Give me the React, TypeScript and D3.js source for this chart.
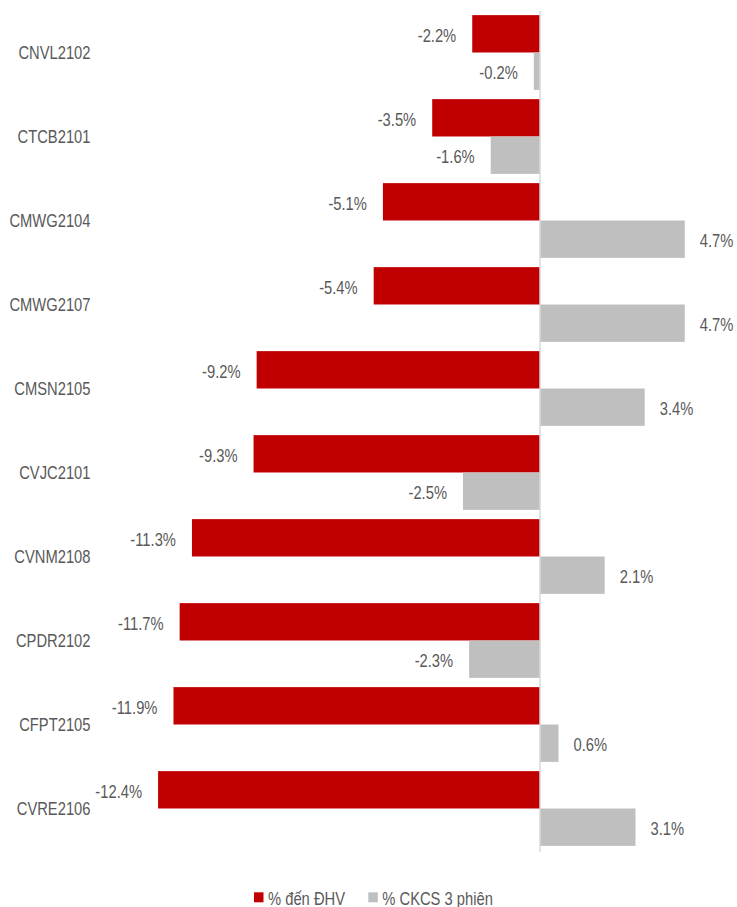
import React, { useEffect, useRef } from 'react';
import * as d3 from 'd3';

const categories = ['CNVL2102', 'CTCB2101', 'CMWG2104', 'CMWG2107', 'CMSN2105', 'CVJC2101', 'CVNM2108', 'CPDR2102', 'CFPT2105', 'CVRE2106'];
const toFairValue = [-2.2, -3.5, -5.1, -5.4, -9.2, -9.3, -11.3, -11.7, -11.9, -12.4];
const underlying3d = [-0.2, -1.6, 4.7, 4.7, 3.4, -2.5, 2.1, -2.3, 0.6, 3.1];
const seriesNames = ['% đến ĐHV', '% CKCS 3 phiên'];

const RED = '#C00000';
const GREY = '#BFBFBF';
const TEXT = '#595959';
const FONT = "'Liberation Sans', Arial, sans-serif";
// the original uses a narrow face; squeeze the regular one instead
const SQUEEZE = 0.82;

const App: React.FC = () => {
  const svgRef = useRef<SVGSVGElement>(null);

  useEffect(() => {
    if (!svgRef.current) return;
    const width = 737;
    const height = 907;

    const svg = d3.select(svgRef.current);
    svg.selectAll('*').remove();
    svg.attr('width', width).attr('height', height);

    // 0 sits at x≈540, ~30.8px per percentage point
    const x = d3.scaleLinear().domain([-14, 6]).range([108.8, 724.8]);
    const y = d3.scaleBand<string>()
      .domain(categories)
      .range([10.5, 850.5])
      .paddingInner(0.11)
      .paddingOuter(0.055);
    const half = y.bandwidth() / 2;

    const rows = categories.map((c, i) => ({ c, a: toFairValue[i], b: underlying3d[i] }));

    const g = svg.append('g');

    const label = (px: number, py: number, txt: string, anchor: string) =>
      g.append('text')
        .attr('transform', `translate(${px},${py}) scale(${SQUEEZE},1)`)
        .attr('dy', '0.35em')
        .attr('text-anchor', anchor)
        .attr('fill', TEXT)
        .style('font-family', FONT)
        .style('font-size', '18px')
        .text(txt);

    // red bars (top half of band)
    g.selectAll('rect.red')
      .data(rows)
      .enter()
      .append('rect')
      .attr('x', d => x(Math.min(0, d.a)))
      .attr('width', d => Math.abs(x(d.a) - x(0)))
      .attr('y', d => y(d.c)!)
      .attr('height', half)
      .attr('fill', RED);

    // grey bars (bottom half)
    g.selectAll('rect.grey')
      .data(rows)
      .enter()
      .append('rect')
      .attr('x', d => x(Math.min(0, d.b)))
      .attr('width', d => Math.abs(x(d.b) - x(0)))
      .attr('y', d => y(d.c)! + half)
      .attr('height', half)
      .attr('fill', GREY);

    // zero axis line
    g.append('line')
      .attr('x1', x(0)).attr('x2', x(0))
      .attr('y1', 11).attr('y2', 852)
      .attr('stroke', '#D9D9D9')
      .attr('stroke-width', 1.5);

    const labelX = (v: number) => (v < 0 ? x(v) - 16 : x(v) + 15);
    const fmt = (v: number) => `${v.toFixed(1)}%`;

    rows.forEach(d => {
      label(labelX(d.a), y(d.c)! + half / 2 + 1.5, fmt(d.a), d.a < 0 ? 'end' : 'start');
      label(labelX(d.b), y(d.c)! + half * 1.5 + 1.5, fmt(d.b), d.b < 0 ? 'end' : 'start');
      label(90.5, y(d.c)! + half, d.c, 'end');
    });

    // legend
    const items = [
      { name: seriesNames[0], color: RED, x: 254 },
      { name: seriesNames[1], color: GREY, x: 368.3 },
    ];
    items.forEach(it => {
      svg.append('rect')
        .attr('x', it.x).attr('y', 892.3)
        .attr('width', 9.5).attr('height', 10)
        .attr('fill', it.color);
      svg.append('text')
        .attr('transform', `translate(${it.x + 14},898.3) scale(${SQUEEZE},1)`)
        .attr('dy', '0.35em')
        .attr('fill', TEXT)
        .style('font-family', FONT)
        .style('font-size', '18px')
        .text(it.name);
    });
  }, []);

  return (
    <div style={{ position: 'absolute', left: 0, top: 0, background: '#fff' }}>
      <svg ref={svgRef}></svg>
    </div>
  );
};

export default App;
